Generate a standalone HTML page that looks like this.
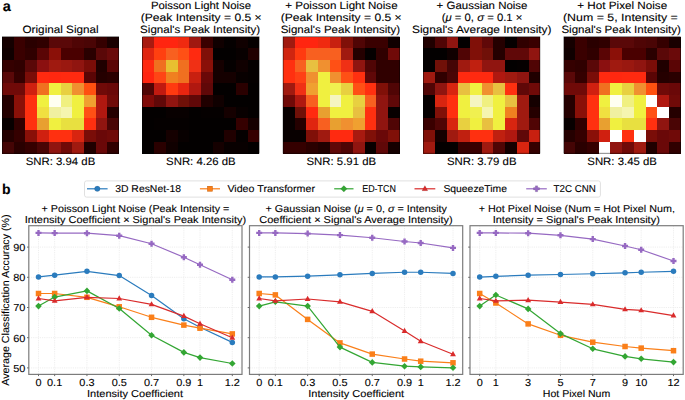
<!DOCTYPE html>
<html><head><meta charset="utf-8"><style>html,body{margin:0;padding:0;background:#fff;width:685px;height:400px;overflow:hidden}</style></head>
<body>
<svg width="685" height="400" viewBox="0 0 685 400" style="display:block" text-rendering="geometricPrecision">
<rect width="685" height="400" fill="#fff"/>
<g font-family="Liberation Sans, sans-serif" stroke="#000" stroke-width="0.1" fill="#000">
<text x="2.7" y="10.6" font-size="14.5" font-weight="bold" >a</text>
<text x="2.0" y="194" font-size="14" font-weight="bold" >b</text>
</g>
<g shape-rendering="crispEdges">
<rect x="2.00" y="36.50" width="11.75" height="11.75" fill="#150000"/>
<rect x="13.70" y="36.50" width="11.75" height="11.75" fill="#3a0000"/>
<rect x="25.40" y="36.50" width="11.75" height="11.75" fill="#2a0000"/>
<rect x="37.10" y="36.50" width="11.75" height="11.75" fill="#300000"/>
<rect x="48.80" y="36.50" width="11.75" height="11.75" fill="#5a0808"/>
<rect x="60.50" y="36.50" width="11.75" height="11.75" fill="#5a0808"/>
<rect x="72.20" y="36.50" width="11.75" height="11.75" fill="#4f0505"/>
<rect x="83.90" y="36.50" width="11.75" height="11.75" fill="#4a0505"/>
<rect x="95.60" y="36.50" width="11.75" height="11.75" fill="#350000"/>
<rect x="107.30" y="36.50" width="11.75" height="11.75" fill="#1a0000"/>
<rect x="2.00" y="48.20" width="11.75" height="11.75" fill="#100000"/>
<rect x="13.70" y="48.20" width="11.75" height="11.75" fill="#3a0000"/>
<rect x="25.40" y="48.20" width="11.75" height="11.75" fill="#300000"/>
<rect x="37.10" y="48.20" width="11.75" height="11.75" fill="#5a0505"/>
<rect x="48.80" y="48.20" width="11.75" height="11.75" fill="#8b1008"/>
<rect x="60.50" y="48.20" width="11.75" height="11.75" fill="#4a0000"/>
<rect x="72.20" y="48.20" width="11.75" height="11.75" fill="#4a0000"/>
<rect x="83.90" y="48.20" width="11.75" height="11.75" fill="#2a0000"/>
<rect x="95.60" y="48.20" width="11.75" height="11.75" fill="#5a0808"/>
<rect x="107.30" y="48.20" width="11.75" height="11.75" fill="#6a0a0a"/>
<rect x="2.00" y="59.90" width="11.75" height="11.75" fill="#350000"/>
<rect x="13.70" y="59.90" width="11.75" height="11.75" fill="#300000"/>
<rect x="25.40" y="59.90" width="11.75" height="11.75" fill="#5a0808"/>
<rect x="37.10" y="59.90" width="11.75" height="11.75" fill="#8b1010"/>
<rect x="48.80" y="59.90" width="11.75" height="11.75" fill="#a01a10"/>
<rect x="60.50" y="59.90" width="11.75" height="11.75" fill="#9a1810"/>
<rect x="72.20" y="59.90" width="11.75" height="11.75" fill="#901510"/>
<rect x="83.90" y="59.90" width="11.75" height="11.75" fill="#7a0d08"/>
<rect x="95.60" y="59.90" width="11.75" height="11.75" fill="#200000"/>
<rect x="107.30" y="59.90" width="11.75" height="11.75" fill="#5a0505"/>
<rect x="2.00" y="71.60" width="11.75" height="11.75" fill="#5a0808"/>
<rect x="13.70" y="71.60" width="11.75" height="11.75" fill="#350000"/>
<rect x="25.40" y="71.60" width="11.75" height="11.75" fill="#7a0d08"/>
<rect x="37.10" y="71.60" width="11.75" height="11.75" fill="#ff2a10"/>
<rect x="48.80" y="71.60" width="11.75" height="11.75" fill="#ff2810"/>
<rect x="60.50" y="71.60" width="11.75" height="11.75" fill="#ff2a10"/>
<rect x="72.20" y="71.60" width="11.75" height="11.75" fill="#ff2a10"/>
<rect x="83.90" y="71.60" width="11.75" height="11.75" fill="#5a0505"/>
<rect x="95.60" y="71.60" width="11.75" height="11.75" fill="#250000"/>
<rect x="107.30" y="71.60" width="11.75" height="11.75" fill="#2a0000"/>
<rect x="2.00" y="83.30" width="11.75" height="11.75" fill="#700a08"/>
<rect x="13.70" y="83.30" width="11.75" height="11.75" fill="#700a08"/>
<rect x="25.40" y="83.30" width="11.75" height="11.75" fill="#d02010"/>
<rect x="37.10" y="83.30" width="11.75" height="11.75" fill="#f07020"/>
<rect x="48.80" y="83.30" width="11.75" height="11.75" fill="#f0f040"/>
<rect x="60.50" y="83.30" width="11.75" height="11.75" fill="#e8d040"/>
<rect x="72.20" y="83.30" width="11.75" height="11.75" fill="#f09030"/>
<rect x="83.90" y="83.30" width="11.75" height="11.75" fill="#ff5010"/>
<rect x="95.60" y="83.30" width="11.75" height="11.75" fill="#700a08"/>
<rect x="107.30" y="83.30" width="11.75" height="11.75" fill="#6a0808"/>
<rect x="2.00" y="95.00" width="11.75" height="11.75" fill="#250000"/>
<rect x="13.70" y="95.00" width="11.75" height="11.75" fill="#8a1008"/>
<rect x="25.40" y="95.00" width="11.75" height="11.75" fill="#ff3010"/>
<rect x="37.10" y="95.00" width="11.75" height="11.75" fill="#f0f040"/>
<rect x="48.80" y="95.00" width="11.75" height="11.75" fill="#fffff0"/>
<rect x="60.50" y="95.00" width="11.75" height="11.75" fill="#f0f080"/>
<rect x="72.20" y="95.00" width="11.75" height="11.75" fill="#f0f040"/>
<rect x="83.90" y="95.00" width="11.75" height="11.75" fill="#f0a030"/>
<rect x="95.60" y="95.00" width="11.75" height="11.75" fill="#b01810"/>
<rect x="107.30" y="95.00" width="11.75" height="11.75" fill="#700a08"/>
<rect x="2.00" y="106.70" width="11.75" height="11.75" fill="#250000"/>
<rect x="13.70" y="106.70" width="11.75" height="11.75" fill="#8a1008"/>
<rect x="25.40" y="106.70" width="11.75" height="11.75" fill="#ff3010"/>
<rect x="37.10" y="106.70" width="11.75" height="11.75" fill="#f0e040"/>
<rect x="48.80" y="106.70" width="11.75" height="11.75" fill="#f0f0a0"/>
<rect x="60.50" y="106.70" width="11.75" height="11.75" fill="#f5f5b0"/>
<rect x="72.20" y="106.70" width="11.75" height="11.75" fill="#f0f040"/>
<rect x="83.90" y="106.70" width="11.75" height="11.75" fill="#ff5015"/>
<rect x="95.60" y="106.70" width="11.75" height="11.75" fill="#b01810"/>
<rect x="107.30" y="106.70" width="11.75" height="11.75" fill="#250000"/>
<rect x="2.00" y="118.40" width="11.75" height="11.75" fill="#080000"/>
<rect x="13.70" y="118.40" width="11.75" height="11.75" fill="#300000"/>
<rect x="25.40" y="118.40" width="11.75" height="11.75" fill="#ff3010"/>
<rect x="37.10" y="118.40" width="11.75" height="11.75" fill="#e8a030"/>
<rect x="48.80" y="118.40" width="11.75" height="11.75" fill="#f0f040"/>
<rect x="60.50" y="118.40" width="11.75" height="11.75" fill="#e8e040"/>
<rect x="72.20" y="118.40" width="11.75" height="11.75" fill="#e8e040"/>
<rect x="83.90" y="118.40" width="11.75" height="11.75" fill="#ff3010"/>
<rect x="95.60" y="118.40" width="11.75" height="11.75" fill="#901510"/>
<rect x="107.30" y="118.40" width="11.75" height="11.75" fill="#4a0505"/>
<rect x="2.00" y="130.10" width="11.75" height="11.75" fill="#250000"/>
<rect x="13.70" y="130.10" width="11.75" height="11.75" fill="#350000"/>
<rect x="25.40" y="130.10" width="11.75" height="11.75" fill="#8a1008"/>
<rect x="37.10" y="130.10" width="11.75" height="11.75" fill="#d02010"/>
<rect x="48.80" y="130.10" width="11.75" height="11.75" fill="#ff3010"/>
<rect x="60.50" y="130.10" width="11.75" height="11.75" fill="#ff3010"/>
<rect x="72.20" y="130.10" width="11.75" height="11.75" fill="#d82510"/>
<rect x="83.90" y="130.10" width="11.75" height="11.75" fill="#7a0d08"/>
<rect x="95.60" y="130.10" width="11.75" height="11.75" fill="#6a0808"/>
<rect x="107.30" y="130.10" width="11.75" height="11.75" fill="#700a08"/>
<rect x="2.00" y="141.80" width="11.75" height="11.75" fill="#450505"/>
<rect x="13.70" y="141.80" width="11.75" height="11.75" fill="#2a0000"/>
<rect x="25.40" y="141.80" width="11.75" height="11.75" fill="#350000"/>
<rect x="37.10" y="141.80" width="11.75" height="11.75" fill="#4a0505"/>
<rect x="48.80" y="141.80" width="11.75" height="11.75" fill="#901510"/>
<rect x="60.50" y="141.80" width="11.75" height="11.75" fill="#700a08"/>
<rect x="72.20" y="141.80" width="11.75" height="11.75" fill="#a01a10"/>
<rect x="83.90" y="141.80" width="11.75" height="11.75" fill="#200000"/>
<rect x="95.60" y="141.80" width="11.75" height="11.75" fill="#6a0808"/>
<rect x="107.30" y="141.80" width="11.75" height="11.75" fill="#300000"/>
</g>
<rect x="2.30" y="36.80" width="116.40" height="116.40" fill="none" stroke="#000" stroke-width="0.6" stroke-opacity="0.8"/>
<g shape-rendering="crispEdges">
<rect x="142.40" y="36.50" width="11.75" height="11.75" fill="#a81a10"/>
<rect x="154.10" y="36.50" width="11.75" height="11.75" fill="#ff2510"/>
<rect x="165.80" y="36.50" width="11.75" height="11.75" fill="#ff2510"/>
<rect x="177.50" y="36.50" width="11.75" height="11.75" fill="#f02a10"/>
<rect x="189.20" y="36.50" width="11.75" height="11.75" fill="#a01810"/>
<rect x="200.90" y="36.50" width="11.75" height="11.75" fill="#3a0000"/>
<rect x="212.60" y="36.50" width="11.75" height="11.75" fill="#100000"/>
<rect x="224.30" y="36.50" width="11.75" height="11.75" fill="#050000"/>
<rect x="236.00" y="36.50" width="11.75" height="11.75" fill="#100000"/>
<rect x="247.70" y="36.50" width="11.75" height="11.75" fill="#050000"/>
<rect x="142.40" y="48.20" width="11.75" height="11.75" fill="#e02510"/>
<rect x="154.10" y="48.20" width="11.75" height="11.75" fill="#ff4010"/>
<rect x="165.80" y="48.20" width="11.75" height="11.75" fill="#f86020"/>
<rect x="177.50" y="48.20" width="11.75" height="11.75" fill="#ff5015"/>
<rect x="189.20" y="48.20" width="11.75" height="11.75" fill="#ff2a10"/>
<rect x="200.90" y="48.20" width="11.75" height="11.75" fill="#801008"/>
<rect x="212.60" y="48.20" width="11.75" height="11.75" fill="#030000"/>
<rect x="224.30" y="48.20" width="11.75" height="11.75" fill="#030000"/>
<rect x="236.00" y="48.20" width="11.75" height="11.75" fill="#080000"/>
<rect x="247.70" y="48.20" width="11.75" height="11.75" fill="#200000"/>
<rect x="142.40" y="59.90" width="11.75" height="11.75" fill="#ff2a10"/>
<rect x="154.10" y="59.90" width="11.75" height="11.75" fill="#f07020"/>
<rect x="165.80" y="59.90" width="11.75" height="11.75" fill="#e8c030"/>
<rect x="177.50" y="59.90" width="11.75" height="11.75" fill="#f07020"/>
<rect x="189.20" y="59.90" width="11.75" height="11.75" fill="#f03015"/>
<rect x="200.90" y="59.90" width="11.75" height="11.75" fill="#8a1008"/>
<rect x="212.60" y="59.90" width="11.75" height="11.75" fill="#150000"/>
<rect x="224.30" y="59.90" width="11.75" height="11.75" fill="#050000"/>
<rect x="236.00" y="59.90" width="11.75" height="11.75" fill="#100000"/>
<rect x="247.70" y="59.90" width="11.75" height="11.75" fill="#050000"/>
<rect x="142.40" y="71.60" width="11.75" height="11.75" fill="#ff2510"/>
<rect x="154.10" y="71.60" width="11.75" height="11.75" fill="#ff4515"/>
<rect x="165.80" y="71.60" width="11.75" height="11.75" fill="#f08020"/>
<rect x="177.50" y="71.60" width="11.75" height="11.75" fill="#f07020"/>
<rect x="189.20" y="71.60" width="11.75" height="11.75" fill="#c82010"/>
<rect x="200.90" y="71.60" width="11.75" height="11.75" fill="#6a0808"/>
<rect x="212.60" y="71.60" width="11.75" height="11.75" fill="#150000"/>
<rect x="224.30" y="71.60" width="11.75" height="11.75" fill="#150000"/>
<rect x="236.00" y="71.60" width="11.75" height="11.75" fill="#080000"/>
<rect x="247.70" y="71.60" width="11.75" height="11.75" fill="#050000"/>
<rect x="142.40" y="83.30" width="11.75" height="11.75" fill="#500505"/>
<rect x="154.10" y="83.30" width="11.75" height="11.75" fill="#c01a10"/>
<rect x="165.80" y="83.30" width="11.75" height="11.75" fill="#ff3a10"/>
<rect x="177.50" y="83.30" width="11.75" height="11.75" fill="#e82510"/>
<rect x="189.20" y="83.30" width="11.75" height="11.75" fill="#b01810"/>
<rect x="200.90" y="83.30" width="11.75" height="11.75" fill="#600808"/>
<rect x="212.60" y="83.30" width="11.75" height="11.75" fill="#030000"/>
<rect x="224.30" y="83.30" width="11.75" height="11.75" fill="#030000"/>
<rect x="236.00" y="83.30" width="11.75" height="11.75" fill="#2a0000"/>
<rect x="247.70" y="83.30" width="11.75" height="11.75" fill="#030000"/>
<rect x="142.40" y="95.00" width="11.75" height="11.75" fill="#800a08"/>
<rect x="154.10" y="95.00" width="11.75" height="11.75" fill="#600808"/>
<rect x="165.80" y="95.00" width="11.75" height="11.75" fill="#901510"/>
<rect x="177.50" y="95.00" width="11.75" height="11.75" fill="#701008"/>
<rect x="189.20" y="95.00" width="11.75" height="11.75" fill="#600808"/>
<rect x="200.90" y="95.00" width="11.75" height="11.75" fill="#200000"/>
<rect x="212.60" y="95.00" width="11.75" height="11.75" fill="#100000"/>
<rect x="224.30" y="95.00" width="11.75" height="11.75" fill="#030000"/>
<rect x="236.00" y="95.00" width="11.75" height="11.75" fill="#030000"/>
<rect x="247.70" y="95.00" width="11.75" height="11.75" fill="#030000"/>
<rect x="142.40" y="106.70" width="11.75" height="11.75" fill="#030000"/>
<rect x="154.10" y="106.70" width="11.75" height="11.75" fill="#030000"/>
<rect x="165.80" y="106.70" width="11.75" height="11.75" fill="#080000"/>
<rect x="177.50" y="106.70" width="11.75" height="11.75" fill="#080000"/>
<rect x="189.20" y="106.70" width="11.75" height="11.75" fill="#030000"/>
<rect x="200.90" y="106.70" width="11.75" height="11.75" fill="#050000"/>
<rect x="212.60" y="106.70" width="11.75" height="11.75" fill="#050000"/>
<rect x="224.30" y="106.70" width="11.75" height="11.75" fill="#150000"/>
<rect x="236.00" y="106.70" width="11.75" height="11.75" fill="#080000"/>
<rect x="247.70" y="106.70" width="11.75" height="11.75" fill="#030000"/>
<rect x="142.40" y="118.40" width="11.75" height="11.75" fill="#030000"/>
<rect x="154.10" y="118.40" width="11.75" height="11.75" fill="#050000"/>
<rect x="165.80" y="118.40" width="11.75" height="11.75" fill="#050000"/>
<rect x="177.50" y="118.40" width="11.75" height="11.75" fill="#050000"/>
<rect x="189.20" y="118.40" width="11.75" height="11.75" fill="#030000"/>
<rect x="200.90" y="118.40" width="11.75" height="11.75" fill="#030000"/>
<rect x="212.60" y="118.40" width="11.75" height="11.75" fill="#030000"/>
<rect x="224.30" y="118.40" width="11.75" height="11.75" fill="#030000"/>
<rect x="236.00" y="118.40" width="11.75" height="11.75" fill="#350000"/>
<rect x="247.70" y="118.40" width="11.75" height="11.75" fill="#150000"/>
<rect x="142.40" y="130.10" width="11.75" height="11.75" fill="#030000"/>
<rect x="154.10" y="130.10" width="11.75" height="11.75" fill="#030000"/>
<rect x="165.80" y="130.10" width="11.75" height="11.75" fill="#150000"/>
<rect x="177.50" y="130.10" width="11.75" height="11.75" fill="#080000"/>
<rect x="189.20" y="130.10" width="11.75" height="11.75" fill="#030000"/>
<rect x="200.90" y="130.10" width="11.75" height="11.75" fill="#030000"/>
<rect x="212.60" y="130.10" width="11.75" height="11.75" fill="#030000"/>
<rect x="224.30" y="130.10" width="11.75" height="11.75" fill="#200000"/>
<rect x="236.00" y="130.10" width="11.75" height="11.75" fill="#050000"/>
<rect x="247.70" y="130.10" width="11.75" height="11.75" fill="#350000"/>
<rect x="142.40" y="141.80" width="11.75" height="11.75" fill="#030000"/>
<rect x="154.10" y="141.80" width="11.75" height="11.75" fill="#2a0000"/>
<rect x="165.80" y="141.80" width="11.75" height="11.75" fill="#100000"/>
<rect x="177.50" y="141.80" width="11.75" height="11.75" fill="#030000"/>
<rect x="189.20" y="141.80" width="11.75" height="11.75" fill="#030000"/>
<rect x="200.90" y="141.80" width="11.75" height="11.75" fill="#030000"/>
<rect x="212.60" y="141.80" width="11.75" height="11.75" fill="#150000"/>
<rect x="224.30" y="141.80" width="11.75" height="11.75" fill="#080000"/>
<rect x="236.00" y="141.80" width="11.75" height="11.75" fill="#080000"/>
<rect x="247.70" y="141.80" width="11.75" height="11.75" fill="#030000"/>
</g>
<rect x="142.70" y="36.80" width="116.40" height="116.40" fill="none" stroke="#000" stroke-width="0.6" stroke-opacity="0.8"/>
<g shape-rendering="crispEdges">
<rect x="282.80" y="36.50" width="11.75" height="11.75" fill="#a01a10"/>
<rect x="294.50" y="36.50" width="11.75" height="11.75" fill="#ff2510"/>
<rect x="306.20" y="36.50" width="11.75" height="11.75" fill="#ff2510"/>
<rect x="317.90" y="36.50" width="11.75" height="11.75" fill="#f02a10"/>
<rect x="329.60" y="36.50" width="11.75" height="11.75" fill="#c82010"/>
<rect x="341.30" y="36.50" width="11.75" height="11.75" fill="#801008"/>
<rect x="353.00" y="36.50" width="11.75" height="11.75" fill="#500505"/>
<rect x="364.70" y="36.50" width="11.75" height="11.75" fill="#3a0000"/>
<rect x="376.40" y="36.50" width="11.75" height="11.75" fill="#3a0000"/>
<rect x="388.10" y="36.50" width="11.75" height="11.75" fill="#100000"/>
<rect x="282.80" y="48.20" width="11.75" height="11.75" fill="#d02510"/>
<rect x="294.50" y="48.20" width="11.75" height="11.75" fill="#ff3a10"/>
<rect x="306.20" y="48.20" width="11.75" height="11.75" fill="#f86020"/>
<rect x="317.90" y="48.20" width="11.75" height="11.75" fill="#f86020"/>
<rect x="329.60" y="48.20" width="11.75" height="11.75" fill="#f86020"/>
<rect x="341.30" y="48.20" width="11.75" height="11.75" fill="#a01a10"/>
<rect x="353.00" y="48.20" width="11.75" height="11.75" fill="#250000"/>
<rect x="364.70" y="48.20" width="11.75" height="11.75" fill="#050000"/>
<rect x="376.40" y="48.20" width="11.75" height="11.75" fill="#300000"/>
<rect x="388.10" y="48.20" width="11.75" height="11.75" fill="#700a08"/>
<rect x="282.80" y="59.90" width="11.75" height="11.75" fill="#ff3010"/>
<rect x="294.50" y="59.90" width="11.75" height="11.75" fill="#f86020"/>
<rect x="306.20" y="59.90" width="11.75" height="11.75" fill="#e8c040"/>
<rect x="317.90" y="59.90" width="11.75" height="11.75" fill="#f09030"/>
<rect x="329.60" y="59.90" width="11.75" height="11.75" fill="#ff5015"/>
<rect x="341.30" y="59.90" width="11.75" height="11.75" fill="#f03015"/>
<rect x="353.00" y="59.90" width="11.75" height="11.75" fill="#901510"/>
<rect x="364.70" y="59.90" width="11.75" height="11.75" fill="#500505"/>
<rect x="376.40" y="59.90" width="11.75" height="11.75" fill="#300000"/>
<rect x="388.10" y="59.90" width="11.75" height="11.75" fill="#300000"/>
<rect x="282.80" y="71.60" width="11.75" height="11.75" fill="#ff3010"/>
<rect x="294.50" y="71.60" width="11.75" height="11.75" fill="#ff4015"/>
<rect x="306.20" y="71.60" width="11.75" height="11.75" fill="#f09030"/>
<rect x="317.90" y="71.60" width="11.75" height="11.75" fill="#f0f040"/>
<rect x="329.60" y="71.60" width="11.75" height="11.75" fill="#f09030"/>
<rect x="341.30" y="71.60" width="11.75" height="11.75" fill="#ff5015"/>
<rect x="353.00" y="71.60" width="11.75" height="11.75" fill="#ff3010"/>
<rect x="364.70" y="71.60" width="11.75" height="11.75" fill="#600808"/>
<rect x="376.40" y="71.60" width="11.75" height="11.75" fill="#300000"/>
<rect x="388.10" y="71.60" width="11.75" height="11.75" fill="#300000"/>
<rect x="282.80" y="83.30" width="11.75" height="11.75" fill="#a01a10"/>
<rect x="294.50" y="83.30" width="11.75" height="11.75" fill="#f03015"/>
<rect x="306.20" y="83.30" width="11.75" height="11.75" fill="#f0a030"/>
<rect x="317.90" y="83.30" width="11.75" height="11.75" fill="#f0f040"/>
<rect x="329.60" y="83.30" width="11.75" height="11.75" fill="#f0f050"/>
<rect x="341.30" y="83.30" width="11.75" height="11.75" fill="#e8d040"/>
<rect x="353.00" y="83.30" width="11.75" height="11.75" fill="#ff5015"/>
<rect x="364.70" y="83.30" width="11.75" height="11.75" fill="#ff3010"/>
<rect x="376.40" y="83.30" width="11.75" height="11.75" fill="#801008"/>
<rect x="388.10" y="83.30" width="11.75" height="11.75" fill="#500505"/>
<rect x="282.80" y="95.00" width="11.75" height="11.75" fill="#700a08"/>
<rect x="294.50" y="95.00" width="11.75" height="11.75" fill="#b01810"/>
<rect x="306.20" y="95.00" width="11.75" height="11.75" fill="#f86020"/>
<rect x="317.90" y="95.00" width="11.75" height="11.75" fill="#f0f040"/>
<rect x="329.60" y="95.00" width="11.75" height="11.75" fill="#f5f5c0"/>
<rect x="341.30" y="95.00" width="11.75" height="11.75" fill="#f0f040"/>
<rect x="353.00" y="95.00" width="11.75" height="11.75" fill="#e8d040"/>
<rect x="364.70" y="95.00" width="11.75" height="11.75" fill="#f86020"/>
<rect x="376.40" y="95.00" width="11.75" height="11.75" fill="#901510"/>
<rect x="388.10" y="95.00" width="11.75" height="11.75" fill="#600808"/>
<rect x="282.80" y="106.70" width="11.75" height="11.75" fill="#080000"/>
<rect x="294.50" y="106.70" width="11.75" height="11.75" fill="#701008"/>
<rect x="306.20" y="106.70" width="11.75" height="11.75" fill="#ff2a10"/>
<rect x="317.90" y="106.70" width="11.75" height="11.75" fill="#e8a030"/>
<rect x="329.60" y="106.70" width="11.75" height="11.75" fill="#f0f040"/>
<rect x="341.30" y="106.70" width="11.75" height="11.75" fill="#f0f040"/>
<rect x="353.00" y="106.70" width="11.75" height="11.75" fill="#e8c040"/>
<rect x="364.70" y="106.70" width="11.75" height="11.75" fill="#ff3010"/>
<rect x="376.40" y="106.70" width="11.75" height="11.75" fill="#901510"/>
<rect x="388.10" y="106.70" width="11.75" height="11.75" fill="#080000"/>
<rect x="282.80" y="118.40" width="11.75" height="11.75" fill="#080000"/>
<rect x="294.50" y="118.40" width="11.75" height="11.75" fill="#250000"/>
<rect x="306.20" y="118.40" width="11.75" height="11.75" fill="#e02510"/>
<rect x="317.90" y="118.40" width="11.75" height="11.75" fill="#f86020"/>
<rect x="329.60" y="118.40" width="11.75" height="11.75" fill="#e8a030"/>
<rect x="341.30" y="118.40" width="11.75" height="11.75" fill="#f09030"/>
<rect x="353.00" y="118.40" width="11.75" height="11.75" fill="#f0a030"/>
<rect x="364.70" y="118.40" width="11.75" height="11.75" fill="#ff3010"/>
<rect x="376.40" y="118.40" width="11.75" height="11.75" fill="#901510"/>
<rect x="388.10" y="118.40" width="11.75" height="11.75" fill="#500505"/>
<rect x="282.80" y="130.10" width="11.75" height="11.75" fill="#080000"/>
<rect x="294.50" y="130.10" width="11.75" height="11.75" fill="#080000"/>
<rect x="306.20" y="130.10" width="11.75" height="11.75" fill="#801008"/>
<rect x="317.90" y="130.10" width="11.75" height="11.75" fill="#a01a10"/>
<rect x="329.60" y="130.10" width="11.75" height="11.75" fill="#ff2a10"/>
<rect x="341.30" y="130.10" width="11.75" height="11.75" fill="#ff2a10"/>
<rect x="353.00" y="130.10" width="11.75" height="11.75" fill="#a81a10"/>
<rect x="364.70" y="130.10" width="11.75" height="11.75" fill="#801008"/>
<rect x="376.40" y="130.10" width="11.75" height="11.75" fill="#6a0808"/>
<rect x="388.10" y="130.10" width="11.75" height="11.75" fill="#801008"/>
<rect x="282.80" y="141.80" width="11.75" height="11.75" fill="#350000"/>
<rect x="294.50" y="141.80" width="11.75" height="11.75" fill="#350000"/>
<rect x="306.20" y="141.80" width="11.75" height="11.75" fill="#2a0000"/>
<rect x="317.90" y="141.80" width="11.75" height="11.75" fill="#200000"/>
<rect x="329.60" y="141.80" width="11.75" height="11.75" fill="#600808"/>
<rect x="341.30" y="141.80" width="11.75" height="11.75" fill="#500505"/>
<rect x="353.00" y="141.80" width="11.75" height="11.75" fill="#901510"/>
<rect x="364.70" y="141.80" width="11.75" height="11.75" fill="#080000"/>
<rect x="376.40" y="141.80" width="11.75" height="11.75" fill="#600808"/>
<rect x="388.10" y="141.80" width="11.75" height="11.75" fill="#150000"/>
</g>
<rect x="283.10" y="36.80" width="116.40" height="116.40" fill="none" stroke="#000" stroke-width="0.6" stroke-opacity="0.8"/>
<g shape-rendering="crispEdges">
<rect x="423.20" y="36.50" width="11.75" height="11.75" fill="#200000"/>
<rect x="434.90" y="36.50" width="11.75" height="11.75" fill="#500505"/>
<rect x="446.60" y="36.50" width="11.75" height="11.75" fill="#901510"/>
<rect x="458.30" y="36.50" width="11.75" height="11.75" fill="#030000"/>
<rect x="470.00" y="36.50" width="11.75" height="11.75" fill="#801008"/>
<rect x="481.70" y="36.50" width="11.75" height="11.75" fill="#600808"/>
<rect x="493.40" y="36.50" width="11.75" height="11.75" fill="#250000"/>
<rect x="505.10" y="36.50" width="11.75" height="11.75" fill="#050000"/>
<rect x="516.80" y="36.50" width="11.75" height="11.75" fill="#300000"/>
<rect x="528.50" y="36.50" width="11.75" height="11.75" fill="#3a0000"/>
<rect x="423.20" y="48.20" width="11.75" height="11.75" fill="#030000"/>
<rect x="434.90" y="48.20" width="11.75" height="11.75" fill="#030000"/>
<rect x="446.60" y="48.20" width="11.75" height="11.75" fill="#100000"/>
<rect x="458.30" y="48.20" width="11.75" height="11.75" fill="#500505"/>
<rect x="470.00" y="48.20" width="11.75" height="11.75" fill="#801008"/>
<rect x="481.70" y="48.20" width="11.75" height="11.75" fill="#701008"/>
<rect x="493.40" y="48.20" width="11.75" height="11.75" fill="#250000"/>
<rect x="505.10" y="48.20" width="11.75" height="11.75" fill="#600808"/>
<rect x="516.80" y="48.20" width="11.75" height="11.75" fill="#600808"/>
<rect x="528.50" y="48.20" width="11.75" height="11.75" fill="#901510"/>
<rect x="423.20" y="59.90" width="11.75" height="11.75" fill="#030000"/>
<rect x="434.90" y="59.90" width="11.75" height="11.75" fill="#701008"/>
<rect x="446.60" y="59.90" width="11.75" height="11.75" fill="#450505"/>
<rect x="458.30" y="59.90" width="11.75" height="11.75" fill="#a01a10"/>
<rect x="470.00" y="59.90" width="11.75" height="11.75" fill="#c02010"/>
<rect x="481.70" y="59.90" width="11.75" height="11.75" fill="#901510"/>
<rect x="493.40" y="59.90" width="11.75" height="11.75" fill="#901510"/>
<rect x="505.10" y="59.90" width="11.75" height="11.75" fill="#030000"/>
<rect x="516.80" y="59.90" width="11.75" height="11.75" fill="#050000"/>
<rect x="528.50" y="59.90" width="11.75" height="11.75" fill="#500505"/>
<rect x="423.20" y="71.60" width="11.75" height="11.75" fill="#a01a10"/>
<rect x="434.90" y="71.60" width="11.75" height="11.75" fill="#300000"/>
<rect x="446.60" y="71.60" width="11.75" height="11.75" fill="#4a0505"/>
<rect x="458.30" y="71.60" width="11.75" height="11.75" fill="#ff2a10"/>
<rect x="470.00" y="71.60" width="11.75" height="11.75" fill="#ff2a10"/>
<rect x="481.70" y="71.60" width="11.75" height="11.75" fill="#ff2a10"/>
<rect x="493.40" y="71.60" width="11.75" height="11.75" fill="#b01810"/>
<rect x="505.10" y="71.60" width="11.75" height="11.75" fill="#a01a10"/>
<rect x="516.80" y="71.60" width="11.75" height="11.75" fill="#901510"/>
<rect x="528.50" y="71.60" width="11.75" height="11.75" fill="#200000"/>
<rect x="423.20" y="83.30" width="11.75" height="11.75" fill="#500505"/>
<rect x="434.90" y="83.30" width="11.75" height="11.75" fill="#901510"/>
<rect x="446.60" y="83.30" width="11.75" height="11.75" fill="#d82510"/>
<rect x="458.30" y="83.30" width="11.75" height="11.75" fill="#e8c040"/>
<rect x="470.00" y="83.30" width="11.75" height="11.75" fill="#f0f040"/>
<rect x="481.70" y="83.30" width="11.75" height="11.75" fill="#f09030"/>
<rect x="493.40" y="83.30" width="11.75" height="11.75" fill="#e8c040"/>
<rect x="505.10" y="83.30" width="11.75" height="11.75" fill="#ff3010"/>
<rect x="516.80" y="83.30" width="11.75" height="11.75" fill="#600808"/>
<rect x="528.50" y="83.30" width="11.75" height="11.75" fill="#700a08"/>
<rect x="423.20" y="95.00" width="11.75" height="11.75" fill="#050000"/>
<rect x="434.90" y="95.00" width="11.75" height="11.75" fill="#d82510"/>
<rect x="446.60" y="95.00" width="11.75" height="11.75" fill="#ff3010"/>
<rect x="458.30" y="95.00" width="11.75" height="11.75" fill="#f0f040"/>
<rect x="470.00" y="95.00" width="11.75" height="11.75" fill="#f5f5c0"/>
<rect x="481.70" y="95.00" width="11.75" height="11.75" fill="#f0f080"/>
<rect x="493.40" y="95.00" width="11.75" height="11.75" fill="#f0f040"/>
<rect x="505.10" y="95.00" width="11.75" height="11.75" fill="#e8c040"/>
<rect x="516.80" y="95.00" width="11.75" height="11.75" fill="#a01a10"/>
<rect x="528.50" y="95.00" width="11.75" height="11.75" fill="#150000"/>
<rect x="423.20" y="106.70" width="11.75" height="11.75" fill="#050000"/>
<rect x="434.90" y="106.70" width="11.75" height="11.75" fill="#801008"/>
<rect x="446.60" y="106.70" width="11.75" height="11.75" fill="#ff3010"/>
<rect x="458.30" y="106.70" width="11.75" height="11.75" fill="#f0f040"/>
<rect x="470.00" y="106.70" width="11.75" height="11.75" fill="#f0f050"/>
<rect x="481.70" y="106.70" width="11.75" height="11.75" fill="#f5f5b0"/>
<rect x="493.40" y="106.70" width="11.75" height="11.75" fill="#f0f040"/>
<rect x="505.10" y="106.70" width="11.75" height="11.75" fill="#f08020"/>
<rect x="516.80" y="106.70" width="11.75" height="11.75" fill="#a01a10"/>
<rect x="528.50" y="106.70" width="11.75" height="11.75" fill="#250000"/>
<rect x="423.20" y="118.40" width="11.75" height="11.75" fill="#3a0000"/>
<rect x="434.90" y="118.40" width="11.75" height="11.75" fill="#500505"/>
<rect x="446.60" y="118.40" width="11.75" height="11.75" fill="#d82510"/>
<rect x="458.30" y="118.40" width="11.75" height="11.75" fill="#e8d040"/>
<rect x="470.00" y="118.40" width="11.75" height="11.75" fill="#f0f040"/>
<rect x="481.70" y="118.40" width="11.75" height="11.75" fill="#e8c040"/>
<rect x="493.40" y="118.40" width="11.75" height="11.75" fill="#f0f040"/>
<rect x="505.10" y="118.40" width="11.75" height="11.75" fill="#d82510"/>
<rect x="516.80" y="118.40" width="11.75" height="11.75" fill="#a01a10"/>
<rect x="528.50" y="118.40" width="11.75" height="11.75" fill="#500505"/>
<rect x="423.20" y="130.10" width="11.75" height="11.75" fill="#801008"/>
<rect x="434.90" y="130.10" width="11.75" height="11.75" fill="#150000"/>
<rect x="446.60" y="130.10" width="11.75" height="11.75" fill="#a01a10"/>
<rect x="458.30" y="130.10" width="11.75" height="11.75" fill="#c02010"/>
<rect x="470.00" y="130.10" width="11.75" height="11.75" fill="#ff3010"/>
<rect x="481.70" y="130.10" width="11.75" height="11.75" fill="#ff3010"/>
<rect x="493.40" y="130.10" width="11.75" height="11.75" fill="#c02010"/>
<rect x="505.10" y="130.10" width="11.75" height="11.75" fill="#b01810"/>
<rect x="516.80" y="130.10" width="11.75" height="11.75" fill="#600808"/>
<rect x="528.50" y="130.10" width="11.75" height="11.75" fill="#c82010"/>
<rect x="423.20" y="141.80" width="11.75" height="11.75" fill="#a01a10"/>
<rect x="434.90" y="141.80" width="11.75" height="11.75" fill="#030000"/>
<rect x="446.60" y="141.80" width="11.75" height="11.75" fill="#030000"/>
<rect x="458.30" y="141.80" width="11.75" height="11.75" fill="#350000"/>
<rect x="470.00" y="141.80" width="11.75" height="11.75" fill="#3a0000"/>
<rect x="481.70" y="141.80" width="11.75" height="11.75" fill="#a01a10"/>
<rect x="493.40" y="141.80" width="11.75" height="11.75" fill="#500505"/>
<rect x="505.10" y="141.80" width="11.75" height="11.75" fill="#150000"/>
<rect x="516.80" y="141.80" width="11.75" height="11.75" fill="#d82510"/>
<rect x="528.50" y="141.80" width="11.75" height="11.75" fill="#350000"/>
</g>
<rect x="423.50" y="36.80" width="116.40" height="116.40" fill="none" stroke="#000" stroke-width="0.6" stroke-opacity="0.8"/>
<g shape-rendering="crispEdges">
<rect x="563.60" y="36.50" width="11.75" height="11.75" fill="#150000"/>
<rect x="575.30" y="36.50" width="11.75" height="11.75" fill="#3a0000"/>
<rect x="587.00" y="36.50" width="11.75" height="11.75" fill="#2a0000"/>
<rect x="598.70" y="36.50" width="11.75" height="11.75" fill="#300000"/>
<rect x="610.40" y="36.50" width="11.75" height="11.75" fill="#5a0808"/>
<rect x="622.10" y="36.50" width="11.75" height="11.75" fill="#5a0808"/>
<rect x="633.80" y="36.50" width="11.75" height="11.75" fill="#4f0505"/>
<rect x="645.50" y="36.50" width="11.75" height="11.75" fill="#4a0505"/>
<rect x="657.20" y="36.50" width="11.75" height="11.75" fill="#350000"/>
<rect x="668.90" y="36.50" width="11.75" height="11.75" fill="#1a0000"/>
<rect x="563.60" y="48.20" width="11.75" height="11.75" fill="#100000"/>
<rect x="575.30" y="48.20" width="11.75" height="11.75" fill="#3a0000"/>
<rect x="587.00" y="48.20" width="11.75" height="11.75" fill="#300000"/>
<rect x="598.70" y="48.20" width="11.75" height="11.75" fill="#5a0505"/>
<rect x="610.40" y="48.20" width="11.75" height="11.75" fill="#8b1008"/>
<rect x="622.10" y="48.20" width="11.75" height="11.75" fill="#4a0000"/>
<rect x="633.80" y="48.20" width="11.75" height="11.75" fill="#4a0000"/>
<rect x="645.50" y="48.20" width="11.75" height="11.75" fill="#2a0000"/>
<rect x="657.20" y="48.20" width="11.75" height="11.75" fill="#5a0808"/>
<rect x="668.90" y="48.20" width="11.75" height="11.75" fill="#6a0a0a"/>
<rect x="563.60" y="59.90" width="11.75" height="11.75" fill="#350000"/>
<rect x="575.30" y="59.90" width="11.75" height="11.75" fill="#300000"/>
<rect x="587.00" y="59.90" width="11.75" height="11.75" fill="#5a0808"/>
<rect x="598.70" y="59.90" width="11.75" height="11.75" fill="#8b1010"/>
<rect x="610.40" y="59.90" width="11.75" height="11.75" fill="#a01a10"/>
<rect x="622.10" y="59.90" width="11.75" height="11.75" fill="#9a1810"/>
<rect x="633.80" y="59.90" width="11.75" height="11.75" fill="#901510"/>
<rect x="645.50" y="59.90" width="11.75" height="11.75" fill="#7a0d08"/>
<rect x="657.20" y="59.90" width="11.75" height="11.75" fill="#200000"/>
<rect x="668.90" y="59.90" width="11.75" height="11.75" fill="#5a0505"/>
<rect x="563.60" y="71.60" width="11.75" height="11.75" fill="#5a0808"/>
<rect x="575.30" y="71.60" width="11.75" height="11.75" fill="#350000"/>
<rect x="587.00" y="71.60" width="11.75" height="11.75" fill="#7a0d08"/>
<rect x="598.70" y="71.60" width="11.75" height="11.75" fill="#ff2a10"/>
<rect x="610.40" y="71.60" width="11.75" height="11.75" fill="#ff2810"/>
<rect x="622.10" y="71.60" width="11.75" height="11.75" fill="#ff2a10"/>
<rect x="633.80" y="71.60" width="11.75" height="11.75" fill="#ff2a10"/>
<rect x="645.50" y="71.60" width="11.75" height="11.75" fill="#5a0505"/>
<rect x="657.20" y="71.60" width="11.75" height="11.75" fill="#250000"/>
<rect x="668.90" y="71.60" width="11.75" height="11.75" fill="#2a0000"/>
<rect x="563.60" y="83.30" width="11.75" height="11.75" fill="#700a08"/>
<rect x="575.30" y="83.30" width="11.75" height="11.75" fill="#700a08"/>
<rect x="587.00" y="83.30" width="11.75" height="11.75" fill="#d02010"/>
<rect x="598.70" y="83.30" width="11.75" height="11.75" fill="#f07020"/>
<rect x="610.40" y="83.30" width="11.75" height="11.75" fill="#f0f040"/>
<rect x="622.10" y="83.30" width="11.75" height="11.75" fill="#e8d040"/>
<rect x="633.80" y="83.30" width="11.75" height="11.75" fill="#f09030"/>
<rect x="645.50" y="83.30" width="11.75" height="11.75" fill="#ff5010"/>
<rect x="657.20" y="83.30" width="11.75" height="11.75" fill="#700a08"/>
<rect x="668.90" y="83.30" width="11.75" height="11.75" fill="#6a0808"/>
<rect x="563.60" y="95.00" width="11.75" height="11.75" fill="#250000"/>
<rect x="575.30" y="95.00" width="11.75" height="11.75" fill="#8a1008"/>
<rect x="587.00" y="95.00" width="11.75" height="11.75" fill="#ff3010"/>
<rect x="598.70" y="95.00" width="11.75" height="11.75" fill="#f0f040"/>
<rect x="610.40" y="95.00" width="11.75" height="11.75" fill="#fffff0"/>
<rect x="622.10" y="95.00" width="11.75" height="11.75" fill="#f0f080"/>
<rect x="633.80" y="95.00" width="11.75" height="11.75" fill="#f0f040"/>
<rect x="645.50" y="95.00" width="11.75" height="11.75" fill="#ffffff"/>
<rect x="657.20" y="95.00" width="11.75" height="11.75" fill="#b01810"/>
<rect x="668.90" y="95.00" width="11.75" height="11.75" fill="#700a08"/>
<rect x="563.60" y="106.70" width="11.75" height="11.75" fill="#250000"/>
<rect x="575.30" y="106.70" width="11.75" height="11.75" fill="#8a1008"/>
<rect x="587.00" y="106.70" width="11.75" height="11.75" fill="#ff3010"/>
<rect x="598.70" y="106.70" width="11.75" height="11.75" fill="#f0e040"/>
<rect x="610.40" y="106.70" width="11.75" height="11.75" fill="#f0f0a0"/>
<rect x="622.10" y="106.70" width="11.75" height="11.75" fill="#f5f5b0"/>
<rect x="633.80" y="106.70" width="11.75" height="11.75" fill="#f0f040"/>
<rect x="645.50" y="106.70" width="11.75" height="11.75" fill="#ff5015"/>
<rect x="657.20" y="106.70" width="11.75" height="11.75" fill="#ffffff"/>
<rect x="668.90" y="106.70" width="11.75" height="11.75" fill="#250000"/>
<rect x="563.60" y="118.40" width="11.75" height="11.75" fill="#080000"/>
<rect x="575.30" y="118.40" width="11.75" height="11.75" fill="#300000"/>
<rect x="587.00" y="118.40" width="11.75" height="11.75" fill="#ff3010"/>
<rect x="598.70" y="118.40" width="11.75" height="11.75" fill="#e8a030"/>
<rect x="610.40" y="118.40" width="11.75" height="11.75" fill="#f0f040"/>
<rect x="622.10" y="118.40" width="11.75" height="11.75" fill="#e8e040"/>
<rect x="633.80" y="118.40" width="11.75" height="11.75" fill="#e8e040"/>
<rect x="645.50" y="118.40" width="11.75" height="11.75" fill="#ff3010"/>
<rect x="657.20" y="118.40" width="11.75" height="11.75" fill="#901510"/>
<rect x="668.90" y="118.40" width="11.75" height="11.75" fill="#4a0505"/>
<rect x="563.60" y="130.10" width="11.75" height="11.75" fill="#250000"/>
<rect x="575.30" y="130.10" width="11.75" height="11.75" fill="#350000"/>
<rect x="587.00" y="130.10" width="11.75" height="11.75" fill="#8a1008"/>
<rect x="598.70" y="130.10" width="11.75" height="11.75" fill="#d02010"/>
<rect x="610.40" y="130.10" width="11.75" height="11.75" fill="#ffffff"/>
<rect x="622.10" y="130.10" width="11.75" height="11.75" fill="#ff3010"/>
<rect x="633.80" y="130.10" width="11.75" height="11.75" fill="#ffffff"/>
<rect x="645.50" y="130.10" width="11.75" height="11.75" fill="#7a0d08"/>
<rect x="657.20" y="130.10" width="11.75" height="11.75" fill="#6a0808"/>
<rect x="668.90" y="130.10" width="11.75" height="11.75" fill="#700a08"/>
<rect x="563.60" y="141.80" width="11.75" height="11.75" fill="#450505"/>
<rect x="575.30" y="141.80" width="11.75" height="11.75" fill="#2a0000"/>
<rect x="587.00" y="141.80" width="11.75" height="11.75" fill="#350000"/>
<rect x="598.70" y="141.80" width="11.75" height="11.75" fill="#ffffff"/>
<rect x="610.40" y="141.80" width="11.75" height="11.75" fill="#901510"/>
<rect x="622.10" y="141.80" width="11.75" height="11.75" fill="#700a08"/>
<rect x="633.80" y="141.80" width="11.75" height="11.75" fill="#a01a10"/>
<rect x="645.50" y="141.80" width="11.75" height="11.75" fill="#200000"/>
<rect x="657.20" y="141.80" width="11.75" height="11.75" fill="#6a0808"/>
<rect x="668.90" y="141.80" width="11.75" height="11.75" fill="#300000"/>
</g>
<rect x="563.90" y="36.80" width="116.40" height="116.40" fill="none" stroke="#000" stroke-width="0.6" stroke-opacity="0.8"/>
<g font-family="Liberation Sans, sans-serif" stroke="#000" stroke-width="0.1" fill="#000">
<text x="22.5" y="33" font-size="10.6" textLength="76.2" lengthAdjust="spacingAndGlyphs" >Original Signal</text>
<text x="150.9" y="9" font-size="10.6" textLength="100.2" lengthAdjust="spacingAndGlyphs" >Poisson Light Noise</text>
<text x="140.7" y="21" font-size="10.6" textLength="121.0" lengthAdjust="spacingAndGlyphs" >(Peak Intensity = 0.5 ×</text>
<text x="140.1" y="33" font-size="10.6" textLength="120.0" lengthAdjust="spacingAndGlyphs" >Signal's Peak Intensity)</text>
<text x="285.2" y="9" font-size="10.6" textLength="112.4" lengthAdjust="spacingAndGlyphs" >+ Poisson Light Noise</text>
<text x="280.7" y="21" font-size="10.6" textLength="121.0" lengthAdjust="spacingAndGlyphs" >(Peak Intensity = 0.5 ×</text>
<text x="280.7" y="33" font-size="10.6" textLength="119.4" lengthAdjust="spacingAndGlyphs" >Signal's Peak Intensity)</text>
<text x="436.6" y="9" font-size="10.6" textLength="90.9" lengthAdjust="spacingAndGlyphs" >+ Gaussian Noise</text>
<text x="412.0" y="33" font-size="10.6" textLength="139.5" lengthAdjust="spacingAndGlyphs" >Signal's Average Intensity)</text>
<text x="577.3" y="9" font-size="10.6" textLength="89.9" lengthAdjust="spacingAndGlyphs" >+ Hot Pixel Noise</text>
<text x="563.0" y="21" font-size="10.6" textLength="114.8" lengthAdjust="spacingAndGlyphs" >(Num = 5, Intensity =</text>
<text x="561.4" y="33" font-size="10.6" textLength="119.5" lengthAdjust="spacingAndGlyphs" >Signal's Peak Intensity)</text>
<text x="441.7" y="21" font-size="10.6" textLength="80.7" lengthAdjust="spacingAndGlyphs">(<tspan font-style="italic">μ</tspan> = 0, <tspan font-style="italic">σ</tspan> = 0.1 ×</text>
<text x="25.7" y="165" font-size="10.7" textLength="69.6" lengthAdjust="spacingAndGlyphs" >SNR: 3.94 dB</text>
<text x="166.1" y="165" font-size="10.7" textLength="69.6" lengthAdjust="spacingAndGlyphs" >SNR: 4.26 dB</text>
<text x="306.5" y="165" font-size="10.7" textLength="69.6" lengthAdjust="spacingAndGlyphs" >SNR: 5.91 dB</text>
<text x="446.9" y="165" font-size="10.7" textLength="69.6" lengthAdjust="spacingAndGlyphs" >SNR: 3.79 dB</text>
<text x="587.3" y="165" font-size="10.7" textLength="69.6" lengthAdjust="spacingAndGlyphs" >SNR: 3.45 dB</text>
</g>
<rect x="84.5" y="180.9" width="515.9" height="16.2" rx="2" fill="#fff" stroke="#e0e0e0" stroke-width="1"/>
<g font-family="Liberation Sans, sans-serif" stroke="#000" stroke-width="0.1" fill="#000">
<line x1="87" y1="188.8" x2="107.6" y2="188.8" stroke="#2a7bbd" stroke-width="1.2"/>
<circle cx="97.30" cy="188.80" r="2.75" fill="#2a7bbd"/>
<text x="115.2" y="192" font-size="10.0" textLength="65.9" lengthAdjust="spacingAndGlyphs" >3D ResNet-18</text>
<line x1="199.9" y1="188.8" x2="220" y2="188.8" stroke="#fa7f19" stroke-width="1.2"/>
<rect x="207.20" y="186.05" width="5.50" height="5.50" fill="#fa7f19"/>
<text x="227.4" y="192" font-size="10.0" textLength="87.6" lengthAdjust="spacingAndGlyphs" >Video Transformer</text>
<line x1="334.2" y1="188.8" x2="353.5" y2="188.8" stroke="#33a633" stroke-width="1.2"/>
<path d="M343.85 185.50L347.15 188.80L343.85 192.10L340.55 188.80Z" fill="#33a633"/>
<text x="362.2" y="192" font-size="10.0" textLength="33.7" lengthAdjust="spacingAndGlyphs" >ED-TCN</text>
<line x1="414.5" y1="188.8" x2="435.3" y2="188.8" stroke="#d92b2b" stroke-width="1.2"/>
<path d="M424.90 185.55L427.82 190.75L421.97 190.75Z" fill="#d92b2b"/>
<text x="443.4" y="192" font-size="10.0" textLength="63.6" lengthAdjust="spacingAndGlyphs" >SqueezeTime</text>
<line x1="526.2" y1="188.8" x2="546.8" y2="188.8" stroke="#9669c2" stroke-width="1.2"/>
<path d="M535.30 185.80H537.70V187.60H539.50V190.00H537.70V191.80H535.30V190.00H533.50V187.60H535.30Z" fill="#9669c2"/>
<text x="553.5" y="192" font-size="10.0" textLength="42.4" lengthAdjust="spacingAndGlyphs" >T2C CNN</text>
</g>
<g stroke="#ececec" stroke-width="0.9" stroke-dasharray="1.2 1">
<line x1="38.50" y1="225.7" x2="38.50" y2="374.4"/>
<line x1="54.65" y1="225.7" x2="54.65" y2="374.4"/>
<line x1="86.95" y1="225.7" x2="86.95" y2="374.4"/>
<line x1="119.25" y1="225.7" x2="119.25" y2="374.4"/>
<line x1="151.55" y1="225.7" x2="151.55" y2="374.4"/>
<line x1="183.85" y1="225.7" x2="183.85" y2="374.4"/>
<line x1="200.00" y1="225.7" x2="200.00" y2="374.4"/>
<line x1="232.30" y1="225.7" x2="232.30" y2="374.4"/>
<line x1="28.8" y1="367.90" x2="242.0" y2="367.90"/>
<line x1="28.8" y1="337.70" x2="242.0" y2="337.70"/>
<line x1="28.8" y1="307.50" x2="242.0" y2="307.50"/>
<line x1="28.8" y1="277.30" x2="242.0" y2="277.30"/>
<line x1="28.8" y1="247.10" x2="242.0" y2="247.10"/>
</g>
<polyline points="38.50,276.90 54.65,275.20 86.95,271.30 119.25,275.60 151.55,295.40 183.85,318.70 200.00,327.20 232.30,342.40" fill="none" stroke="#2a7bbd" stroke-width="1.2" stroke-linejoin="round"/>
<circle cx="38.50" cy="276.90" r="2.75" fill="#2a7bbd"/>
<circle cx="54.65" cy="275.20" r="2.75" fill="#2a7bbd"/>
<circle cx="86.95" cy="271.30" r="2.75" fill="#2a7bbd"/>
<circle cx="119.25" cy="275.60" r="2.75" fill="#2a7bbd"/>
<circle cx="151.55" cy="295.40" r="2.75" fill="#2a7bbd"/>
<circle cx="183.85" cy="318.70" r="2.75" fill="#2a7bbd"/>
<circle cx="200.00" cy="327.20" r="2.75" fill="#2a7bbd"/>
<circle cx="232.30" cy="342.40" r="2.75" fill="#2a7bbd"/>
<polyline points="38.50,293.50 54.65,293.50 86.95,297.30 119.25,306.80 151.55,317.30 183.85,325.10 200.00,328.20 232.30,333.90" fill="none" stroke="#fa7f19" stroke-width="1.2" stroke-linejoin="round"/>
<rect x="35.75" y="290.75" width="5.50" height="5.50" fill="#fa7f19"/>
<rect x="51.90" y="290.75" width="5.50" height="5.50" fill="#fa7f19"/>
<rect x="84.20" y="294.55" width="5.50" height="5.50" fill="#fa7f19"/>
<rect x="116.50" y="304.05" width="5.50" height="5.50" fill="#fa7f19"/>
<rect x="148.80" y="314.55" width="5.50" height="5.50" fill="#fa7f19"/>
<rect x="181.10" y="322.35" width="5.50" height="5.50" fill="#fa7f19"/>
<rect x="197.25" y="325.45" width="5.50" height="5.50" fill="#fa7f19"/>
<rect x="229.55" y="331.15" width="5.50" height="5.50" fill="#fa7f19"/>
<polyline points="38.50,306.10 54.65,297.10 86.95,290.90 119.25,308.50 151.55,335.30 183.85,352.40 200.00,357.60 232.30,363.50" fill="none" stroke="#33a633" stroke-width="1.2" stroke-linejoin="round"/>
<path d="M38.50 302.80L41.80 306.10L38.50 309.40L35.20 306.10Z" fill="#33a633"/>
<path d="M54.65 293.80L57.95 297.10L54.65 300.40L51.35 297.10Z" fill="#33a633"/>
<path d="M86.95 287.60L90.25 290.90L86.95 294.20L83.65 290.90Z" fill="#33a633"/>
<path d="M119.25 305.20L122.55 308.50L119.25 311.80L115.95 308.50Z" fill="#33a633"/>
<path d="M151.55 332.00L154.85 335.30L151.55 338.60L148.25 335.30Z" fill="#33a633"/>
<path d="M183.85 349.10L187.15 352.40L183.85 355.70L180.55 352.40Z" fill="#33a633"/>
<path d="M200.00 354.30L203.30 357.60L200.00 360.90L196.70 357.60Z" fill="#33a633"/>
<path d="M232.30 360.20L235.60 363.50L232.30 366.80L229.00 363.50Z" fill="#33a633"/>
<polyline points="38.50,298.50 54.65,300.90 86.95,297.30 119.25,298.50 151.55,304.40 183.85,316.10 200.00,323.70 232.30,337.70" fill="none" stroke="#d92b2b" stroke-width="1.2" stroke-linejoin="round"/>
<path d="M38.50 295.25L41.42 300.45L35.58 300.45Z" fill="#d92b2b"/>
<path d="M54.65 297.65L57.58 302.85L51.73 302.85Z" fill="#d92b2b"/>
<path d="M86.95 294.05L89.87 299.25L84.02 299.25Z" fill="#d92b2b"/>
<path d="M119.25 295.25L122.17 300.45L116.33 300.45Z" fill="#d92b2b"/>
<path d="M151.55 301.15L154.48 306.35L148.62 306.35Z" fill="#d92b2b"/>
<path d="M183.85 312.85L186.78 318.05L180.92 318.05Z" fill="#d92b2b"/>
<path d="M200.00 320.45L202.93 325.65L197.07 325.65Z" fill="#d92b2b"/>
<path d="M232.30 334.45L235.22 339.65L229.37 339.65Z" fill="#d92b2b"/>
<polyline points="38.50,232.90 54.65,233.10 86.95,233.20 119.25,235.70 151.55,243.75 183.85,257.25 200.00,264.75 232.30,279.75" fill="none" stroke="#9669c2" stroke-width="1.2" stroke-linejoin="round"/>
<path d="M37.30 229.90H39.70V231.70H41.50V234.10H39.70V235.90H37.30V234.10H35.50V231.70H37.30Z" fill="#9669c2"/>
<path d="M53.45 230.10H55.85V231.90H57.65V234.30H55.85V236.10H53.45V234.30H51.65V231.90H53.45Z" fill="#9669c2"/>
<path d="M85.75 230.20H88.15V232.00H89.95V234.40H88.15V236.20H85.75V234.40H83.95V232.00H85.75Z" fill="#9669c2"/>
<path d="M118.05 232.70H120.45V234.50H122.25V236.90H120.45V238.70H118.05V236.90H116.25V234.50H118.05Z" fill="#9669c2"/>
<path d="M150.35 240.75H152.75V242.55H154.55V244.95H152.75V246.75H150.35V244.95H148.55V242.55H150.35Z" fill="#9669c2"/>
<path d="M182.65 254.25H185.05V256.05H186.85V258.45H185.05V260.25H182.65V258.45H180.85V256.05H182.65Z" fill="#9669c2"/>
<path d="M198.80 261.75H201.20V263.55H203.00V265.95H201.20V267.75H198.80V265.95H197.00V263.55H198.80Z" fill="#9669c2"/>
<path d="M231.10 276.75H233.50V278.55H235.30V280.95H233.50V282.75H231.10V280.95H229.30V278.55H231.10Z" fill="#9669c2"/>
<rect x="28.8" y="225.7" width="213.2" height="148.7" fill="none" stroke="#7c7c7c" stroke-width="1.2"/>
<g stroke="#6a6a6a" stroke-width="1.0">
<line x1="38.50" y1="374.4" x2="38.50" y2="376.09999999999997"/>
<line x1="54.65" y1="374.4" x2="54.65" y2="376.09999999999997"/>
<line x1="86.95" y1="374.4" x2="86.95" y2="376.09999999999997"/>
<line x1="119.25" y1="374.4" x2="119.25" y2="376.09999999999997"/>
<line x1="151.55" y1="374.4" x2="151.55" y2="376.09999999999997"/>
<line x1="183.85" y1="374.4" x2="183.85" y2="376.09999999999997"/>
<line x1="200.00" y1="374.4" x2="200.00" y2="376.09999999999997"/>
<line x1="232.30" y1="374.4" x2="232.30" y2="376.09999999999997"/>
<line x1="27.0" y1="367.90" x2="28.8" y2="367.90"/>
<line x1="27.0" y1="337.70" x2="28.8" y2="337.70"/>
<line x1="27.0" y1="307.50" x2="28.8" y2="307.50"/>
<line x1="27.0" y1="277.30" x2="28.8" y2="277.30"/>
<line x1="27.0" y1="247.10" x2="28.8" y2="247.10"/>
</g>
<g font-family="Liberation Sans, sans-serif" stroke="#000" stroke-width="0.1" fill="#000">
<text x="38.5" y="386" font-size="10.2" text-anchor="middle" textLength="6.08" lengthAdjust="spacingAndGlyphs" >0</text>
<text x="54.65" y="386" font-size="10.2" text-anchor="middle" textLength="15.19" lengthAdjust="spacingAndGlyphs" >0.1</text>
<text x="86.95" y="386" font-size="10.2" text-anchor="middle" textLength="15.19" lengthAdjust="spacingAndGlyphs" >0.3</text>
<text x="119.25" y="386" font-size="10.2" text-anchor="middle" textLength="15.19" lengthAdjust="spacingAndGlyphs" >0.5</text>
<text x="151.55" y="386" font-size="10.2" text-anchor="middle" textLength="15.19" lengthAdjust="spacingAndGlyphs" >0.7</text>
<text x="183.85" y="386" font-size="10.2" text-anchor="middle" textLength="15.19" lengthAdjust="spacingAndGlyphs" >0.9</text>
<text x="200.0" y="386" font-size="10.2" text-anchor="middle" textLength="6.08" lengthAdjust="spacingAndGlyphs" >1</text>
<text x="232.3" y="386" font-size="10.2" text-anchor="middle" textLength="15.19" lengthAdjust="spacingAndGlyphs" >1.2</text>
<text x="25.3" y="372" font-size="10.2" text-anchor="end" textLength="12.15" lengthAdjust="spacingAndGlyphs" >50</text>
<text x="25.3" y="342" font-size="10.2" text-anchor="end" textLength="12.15" lengthAdjust="spacingAndGlyphs" >60</text>
<text x="25.3" y="311" font-size="10.2" text-anchor="end" textLength="12.15" lengthAdjust="spacingAndGlyphs" >70</text>
<text x="25.3" y="281" font-size="10.2" text-anchor="end" textLength="12.15" lengthAdjust="spacingAndGlyphs" >80</text>
<text x="25.3" y="251" font-size="10.2" text-anchor="end" textLength="12.15" lengthAdjust="spacingAndGlyphs" >90</text>
<text x="41.5" y="212" font-size="10.0" textLength="187.8" lengthAdjust="spacingAndGlyphs" >+ Poisson Light Noise (Peak Intensity =</text>
<text x="24.7" y="223" font-size="10.0" textLength="221.4" lengthAdjust="spacingAndGlyphs" >Intensity Coefficient × Signal's Peak Intensity)</text>
<text x="87" y="397" font-size="10.0" textLength="96" lengthAdjust="spacingAndGlyphs" >Intensity Coefficient</text>
</g>
<g stroke="#ececec" stroke-width="0.9" stroke-dasharray="1.2 1">
<line x1="259.20" y1="225.7" x2="259.20" y2="374.4"/>
<line x1="275.35" y1="225.7" x2="275.35" y2="374.4"/>
<line x1="307.65" y1="225.7" x2="307.65" y2="374.4"/>
<line x1="339.95" y1="225.7" x2="339.95" y2="374.4"/>
<line x1="372.25" y1="225.7" x2="372.25" y2="374.4"/>
<line x1="404.55" y1="225.7" x2="404.55" y2="374.4"/>
<line x1="420.70" y1="225.7" x2="420.70" y2="374.4"/>
<line x1="453.00" y1="225.7" x2="453.00" y2="374.4"/>
<line x1="249.5" y1="367.90" x2="462.7" y2="367.90"/>
<line x1="249.5" y1="337.70" x2="462.7" y2="337.70"/>
<line x1="249.5" y1="307.50" x2="462.7" y2="307.50"/>
<line x1="249.5" y1="277.30" x2="462.7" y2="277.30"/>
<line x1="249.5" y1="247.10" x2="462.7" y2="247.10"/>
</g>
<polyline points="259.20,276.90 275.35,276.90 307.65,276.20 339.95,274.80 372.25,273.40 404.55,272.25 420.70,272.25 453.00,273.40" fill="none" stroke="#2a7bbd" stroke-width="1.2" stroke-linejoin="round"/>
<circle cx="259.20" cy="276.90" r="2.75" fill="#2a7bbd"/>
<circle cx="275.35" cy="276.90" r="2.75" fill="#2a7bbd"/>
<circle cx="307.65" cy="276.20" r="2.75" fill="#2a7bbd"/>
<circle cx="339.95" cy="274.80" r="2.75" fill="#2a7bbd"/>
<circle cx="372.25" cy="273.40" r="2.75" fill="#2a7bbd"/>
<circle cx="404.55" cy="272.25" r="2.75" fill="#2a7bbd"/>
<circle cx="420.70" cy="272.25" r="2.75" fill="#2a7bbd"/>
<circle cx="453.00" cy="273.40" r="2.75" fill="#2a7bbd"/>
<polyline points="259.20,293.50 275.35,294.90 307.65,319.40 339.95,342.90 372.25,354.10 404.55,359.00 420.70,361.20 453.00,362.80" fill="none" stroke="#fa7f19" stroke-width="1.2" stroke-linejoin="round"/>
<rect x="256.45" y="290.75" width="5.50" height="5.50" fill="#fa7f19"/>
<rect x="272.60" y="292.15" width="5.50" height="5.50" fill="#fa7f19"/>
<rect x="304.90" y="316.65" width="5.50" height="5.50" fill="#fa7f19"/>
<rect x="337.20" y="340.15" width="5.50" height="5.50" fill="#fa7f19"/>
<rect x="369.50" y="351.35" width="5.50" height="5.50" fill="#fa7f19"/>
<rect x="401.80" y="356.25" width="5.50" height="5.50" fill="#fa7f19"/>
<rect x="417.95" y="358.45" width="5.50" height="5.50" fill="#fa7f19"/>
<rect x="450.25" y="360.05" width="5.50" height="5.50" fill="#fa7f19"/>
<polyline points="259.20,306.10 275.35,301.80 307.65,306.10 339.95,347.10 372.25,362.40 404.55,366.20 420.70,366.90 453.00,367.80" fill="none" stroke="#33a633" stroke-width="1.2" stroke-linejoin="round"/>
<path d="M259.20 302.80L262.50 306.10L259.20 309.40L255.90 306.10Z" fill="#33a633"/>
<path d="M275.35 298.50L278.65 301.80L275.35 305.10L272.05 301.80Z" fill="#33a633"/>
<path d="M307.65 302.80L310.95 306.10L307.65 309.40L304.35 306.10Z" fill="#33a633"/>
<path d="M339.95 343.80L343.25 347.10L339.95 350.40L336.65 347.10Z" fill="#33a633"/>
<path d="M372.25 359.10L375.55 362.40L372.25 365.70L368.95 362.40Z" fill="#33a633"/>
<path d="M404.55 362.90L407.85 366.20L404.55 369.50L401.25 366.20Z" fill="#33a633"/>
<path d="M420.70 363.60L424.00 366.90L420.70 370.20L417.40 366.90Z" fill="#33a633"/>
<path d="M453.00 364.50L456.30 367.80L453.00 371.10L449.70 367.80Z" fill="#33a633"/>
<polyline points="259.20,298.50 275.35,300.90 307.65,299.00 339.95,301.80 372.25,311.30 404.55,331.00 420.70,341.20 453.00,354.30" fill="none" stroke="#d92b2b" stroke-width="1.2" stroke-linejoin="round"/>
<path d="M259.20 295.25L262.12 300.45L256.27 300.45Z" fill="#d92b2b"/>
<path d="M275.35 297.65L278.27 302.85L272.42 302.85Z" fill="#d92b2b"/>
<path d="M307.65 295.75L310.57 300.95L304.72 300.95Z" fill="#d92b2b"/>
<path d="M339.95 298.55L342.88 303.75L337.02 303.75Z" fill="#d92b2b"/>
<path d="M372.25 308.05L375.18 313.25L369.32 313.25Z" fill="#d92b2b"/>
<path d="M404.55 327.75L407.47 332.95L401.62 332.95Z" fill="#d92b2b"/>
<path d="M420.70 337.95L423.62 343.15L417.77 343.15Z" fill="#d92b2b"/>
<path d="M453.00 351.05L455.93 356.25L450.07 356.25Z" fill="#d92b2b"/>
<polyline points="259.20,232.90 275.35,232.90 307.65,233.60 339.95,235.10 372.25,237.75 404.55,241.50 420.70,243.00 453.00,247.90" fill="none" stroke="#9669c2" stroke-width="1.2" stroke-linejoin="round"/>
<path d="M258.00 229.90H260.40V231.70H262.20V234.10H260.40V235.90H258.00V234.10H256.20V231.70H258.00Z" fill="#9669c2"/>
<path d="M274.15 229.90H276.55V231.70H278.35V234.10H276.55V235.90H274.15V234.10H272.35V231.70H274.15Z" fill="#9669c2"/>
<path d="M306.45 230.60H308.85V232.40H310.65V234.80H308.85V236.60H306.45V234.80H304.65V232.40H306.45Z" fill="#9669c2"/>
<path d="M338.75 232.10H341.15V233.90H342.95V236.30H341.15V238.10H338.75V236.30H336.95V233.90H338.75Z" fill="#9669c2"/>
<path d="M371.05 234.75H373.45V236.55H375.25V238.95H373.45V240.75H371.05V238.95H369.25V236.55H371.05Z" fill="#9669c2"/>
<path d="M403.35 238.50H405.75V240.30H407.55V242.70H405.75V244.50H403.35V242.70H401.55V240.30H403.35Z" fill="#9669c2"/>
<path d="M419.50 240.00H421.90V241.80H423.70V244.20H421.90V246.00H419.50V244.20H417.70V241.80H419.50Z" fill="#9669c2"/>
<path d="M451.80 244.90H454.20V246.70H456.00V249.10H454.20V250.90H451.80V249.10H450.00V246.70H451.80Z" fill="#9669c2"/>
<rect x="249.5" y="225.7" width="213.2" height="148.7" fill="none" stroke="#7c7c7c" stroke-width="1.2"/>
<g stroke="#6a6a6a" stroke-width="1.0">
<line x1="259.20" y1="374.4" x2="259.20" y2="376.09999999999997"/>
<line x1="275.35" y1="374.4" x2="275.35" y2="376.09999999999997"/>
<line x1="307.65" y1="374.4" x2="307.65" y2="376.09999999999997"/>
<line x1="339.95" y1="374.4" x2="339.95" y2="376.09999999999997"/>
<line x1="372.25" y1="374.4" x2="372.25" y2="376.09999999999997"/>
<line x1="404.55" y1="374.4" x2="404.55" y2="376.09999999999997"/>
<line x1="420.70" y1="374.4" x2="420.70" y2="376.09999999999997"/>
<line x1="453.00" y1="374.4" x2="453.00" y2="376.09999999999997"/>
<line x1="247.7" y1="367.90" x2="249.5" y2="367.90"/>
<line x1="247.7" y1="337.70" x2="249.5" y2="337.70"/>
<line x1="247.7" y1="307.50" x2="249.5" y2="307.50"/>
<line x1="247.7" y1="277.30" x2="249.5" y2="277.30"/>
<line x1="247.7" y1="247.10" x2="249.5" y2="247.10"/>
</g>
<g font-family="Liberation Sans, sans-serif" stroke="#000" stroke-width="0.1" fill="#000">
<text x="259.2" y="386" font-size="10.2" text-anchor="middle" textLength="6.08" lengthAdjust="spacingAndGlyphs" >0</text>
<text x="275.35" y="386" font-size="10.2" text-anchor="middle" textLength="15.19" lengthAdjust="spacingAndGlyphs" >0.1</text>
<text x="307.65" y="386" font-size="10.2" text-anchor="middle" textLength="15.19" lengthAdjust="spacingAndGlyphs" >0.3</text>
<text x="339.95" y="386" font-size="10.2" text-anchor="middle" textLength="15.19" lengthAdjust="spacingAndGlyphs" >0.5</text>
<text x="372.25" y="386" font-size="10.2" text-anchor="middle" textLength="15.19" lengthAdjust="spacingAndGlyphs" >0.7</text>
<text x="404.55" y="386" font-size="10.2" text-anchor="middle" textLength="15.19" lengthAdjust="spacingAndGlyphs" >0.9</text>
<text x="420.7" y="386" font-size="10.2" text-anchor="middle" textLength="6.08" lengthAdjust="spacingAndGlyphs" >1</text>
<text x="453.0" y="386" font-size="10.2" text-anchor="middle" textLength="15.19" lengthAdjust="spacingAndGlyphs" >1.2</text>
<text x="259.3" y="223" font-size="10.0" textLength="193.4" lengthAdjust="spacingAndGlyphs" >Coefficient × Signal's Average Intensity)</text>
<text x="308.2" y="397" font-size="10.0" textLength="96.0" lengthAdjust="spacingAndGlyphs" >Intensity Coefficient</text>
</g>
<g stroke="#ececec" stroke-width="0.9" stroke-dasharray="1.2 1">
<line x1="479.70" y1="225.7" x2="479.70" y2="374.4"/>
<line x1="495.85" y1="225.7" x2="495.85" y2="374.4"/>
<line x1="528.15" y1="225.7" x2="528.15" y2="374.4"/>
<line x1="560.45" y1="225.7" x2="560.45" y2="374.4"/>
<line x1="592.75" y1="225.7" x2="592.75" y2="374.4"/>
<line x1="625.05" y1="225.7" x2="625.05" y2="374.4"/>
<line x1="641.20" y1="225.7" x2="641.20" y2="374.4"/>
<line x1="673.50" y1="225.7" x2="673.50" y2="374.4"/>
<line x1="470.0" y1="367.90" x2="683.2" y2="367.90"/>
<line x1="470.0" y1="337.70" x2="683.2" y2="337.70"/>
<line x1="470.0" y1="307.50" x2="683.2" y2="307.50"/>
<line x1="470.0" y1="277.30" x2="683.2" y2="277.30"/>
<line x1="470.0" y1="247.10" x2="683.2" y2="247.10"/>
</g>
<polyline points="479.70,277.10 495.85,276.30 528.15,275.20 560.45,274.50 592.75,273.75 625.05,272.80 641.20,272.25 673.50,271.30" fill="none" stroke="#2a7bbd" stroke-width="1.2" stroke-linejoin="round"/>
<circle cx="479.70" cy="277.10" r="2.75" fill="#2a7bbd"/>
<circle cx="495.85" cy="276.30" r="2.75" fill="#2a7bbd"/>
<circle cx="528.15" cy="275.20" r="2.75" fill="#2a7bbd"/>
<circle cx="560.45" cy="274.50" r="2.75" fill="#2a7bbd"/>
<circle cx="592.75" cy="273.75" r="2.75" fill="#2a7bbd"/>
<circle cx="625.05" cy="272.80" r="2.75" fill="#2a7bbd"/>
<circle cx="641.20" cy="272.25" r="2.75" fill="#2a7bbd"/>
<circle cx="673.50" cy="271.30" r="2.75" fill="#2a7bbd"/>
<polyline points="479.70,293.50 495.85,303.00 528.15,323.90 560.45,335.30 592.75,342.20 625.05,346.50 641.20,348.10 673.50,350.70" fill="none" stroke="#fa7f19" stroke-width="1.2" stroke-linejoin="round"/>
<rect x="476.95" y="290.75" width="5.50" height="5.50" fill="#fa7f19"/>
<rect x="493.10" y="300.25" width="5.50" height="5.50" fill="#fa7f19"/>
<rect x="525.40" y="321.15" width="5.50" height="5.50" fill="#fa7f19"/>
<rect x="557.70" y="332.55" width="5.50" height="5.50" fill="#fa7f19"/>
<rect x="590.00" y="339.45" width="5.50" height="5.50" fill="#fa7f19"/>
<rect x="622.30" y="343.75" width="5.50" height="5.50" fill="#fa7f19"/>
<rect x="638.45" y="345.35" width="5.50" height="5.50" fill="#fa7f19"/>
<rect x="670.75" y="347.95" width="5.50" height="5.50" fill="#fa7f19"/>
<polyline points="479.70,306.10 495.85,295.00 528.15,308.90 560.45,333.60 592.75,348.80 625.05,356.40 641.20,358.80 673.50,362.10" fill="none" stroke="#33a633" stroke-width="1.2" stroke-linejoin="round"/>
<path d="M479.70 302.80L483.00 306.10L479.70 309.40L476.40 306.10Z" fill="#33a633"/>
<path d="M495.85 291.70L499.15 295.00L495.85 298.30L492.55 295.00Z" fill="#33a633"/>
<path d="M528.15 305.60L531.45 308.90L528.15 312.20L524.85 308.90Z" fill="#33a633"/>
<path d="M560.45 330.30L563.75 333.60L560.45 336.90L557.15 333.60Z" fill="#33a633"/>
<path d="M592.75 345.50L596.05 348.80L592.75 352.10L589.45 348.80Z" fill="#33a633"/>
<path d="M625.05 353.10L628.35 356.40L625.05 359.70L621.75 356.40Z" fill="#33a633"/>
<path d="M641.20 355.50L644.50 358.80L641.20 362.10L637.90 358.80Z" fill="#33a633"/>
<path d="M673.50 358.80L676.80 362.10L673.50 365.40L670.20 362.10Z" fill="#33a633"/>
<polyline points="479.70,298.50 495.85,300.90 528.15,300.20 560.45,302.10 592.75,304.40 625.05,309.40 641.20,310.40 673.50,315.60" fill="none" stroke="#d92b2b" stroke-width="1.2" stroke-linejoin="round"/>
<path d="M479.70 295.25L482.62 300.45L476.77 300.45Z" fill="#d92b2b"/>
<path d="M495.85 297.65L498.77 302.85L492.92 302.85Z" fill="#d92b2b"/>
<path d="M528.15 296.95L531.07 302.15L525.23 302.15Z" fill="#d92b2b"/>
<path d="M560.45 298.85L563.38 304.05L557.53 304.05Z" fill="#d92b2b"/>
<path d="M592.75 301.15L595.67 306.35L589.83 306.35Z" fill="#d92b2b"/>
<path d="M625.05 306.15L627.97 311.35L622.12 311.35Z" fill="#d92b2b"/>
<path d="M641.20 307.15L644.12 312.35L638.28 312.35Z" fill="#d92b2b"/>
<path d="M673.50 312.35L676.42 317.55L670.58 317.55Z" fill="#d92b2b"/>
<polyline points="479.70,232.90 495.85,232.90 528.15,233.20 560.45,235.30 592.75,239.10 625.05,246.00 641.20,249.75 673.50,261.00" fill="none" stroke="#9669c2" stroke-width="1.2" stroke-linejoin="round"/>
<path d="M478.50 229.90H480.90V231.70H482.70V234.10H480.90V235.90H478.50V234.10H476.70V231.70H478.50Z" fill="#9669c2"/>
<path d="M494.65 229.90H497.05V231.70H498.85V234.10H497.05V235.90H494.65V234.10H492.85V231.70H494.65Z" fill="#9669c2"/>
<path d="M526.95 230.20H529.35V232.00H531.15V234.40H529.35V236.20H526.95V234.40H525.15V232.00H526.95Z" fill="#9669c2"/>
<path d="M559.25 232.30H561.65V234.10H563.45V236.50H561.65V238.30H559.25V236.50H557.45V234.10H559.25Z" fill="#9669c2"/>
<path d="M591.55 236.10H593.95V237.90H595.75V240.30H593.95V242.10H591.55V240.30H589.75V237.90H591.55Z" fill="#9669c2"/>
<path d="M623.85 243.00H626.25V244.80H628.05V247.20H626.25V249.00H623.85V247.20H622.05V244.80H623.85Z" fill="#9669c2"/>
<path d="M640.00 246.75H642.40V248.55H644.20V250.95H642.40V252.75H640.00V250.95H638.20V248.55H640.00Z" fill="#9669c2"/>
<path d="M672.30 258.00H674.70V259.80H676.50V262.20H674.70V264.00H672.30V262.20H670.50V259.80H672.30Z" fill="#9669c2"/>
<rect x="470.0" y="225.7" width="213.2" height="148.7" fill="none" stroke="#7c7c7c" stroke-width="1.2"/>
<g stroke="#6a6a6a" stroke-width="1.0">
<line x1="479.70" y1="374.4" x2="479.70" y2="376.09999999999997"/>
<line x1="495.85" y1="374.4" x2="495.85" y2="376.09999999999997"/>
<line x1="528.15" y1="374.4" x2="528.15" y2="376.09999999999997"/>
<line x1="560.45" y1="374.4" x2="560.45" y2="376.09999999999997"/>
<line x1="592.75" y1="374.4" x2="592.75" y2="376.09999999999997"/>
<line x1="625.05" y1="374.4" x2="625.05" y2="376.09999999999997"/>
<line x1="641.20" y1="374.4" x2="641.20" y2="376.09999999999997"/>
<line x1="673.50" y1="374.4" x2="673.50" y2="376.09999999999997"/>
<line x1="468.2" y1="367.90" x2="470.0" y2="367.90"/>
<line x1="468.2" y1="337.70" x2="470.0" y2="337.70"/>
<line x1="468.2" y1="307.50" x2="470.0" y2="307.50"/>
<line x1="468.2" y1="277.30" x2="470.0" y2="277.30"/>
<line x1="468.2" y1="247.10" x2="470.0" y2="247.10"/>
</g>
<g font-family="Liberation Sans, sans-serif" stroke="#000" stroke-width="0.1" fill="#000">
<text x="479.7" y="386" font-size="10.2" text-anchor="middle" textLength="6.08" lengthAdjust="spacingAndGlyphs" >0</text>
<text x="495.85" y="386" font-size="10.2" text-anchor="middle" textLength="6.08" lengthAdjust="spacingAndGlyphs" >1</text>
<text x="528.15" y="386" font-size="10.2" text-anchor="middle" textLength="6.08" lengthAdjust="spacingAndGlyphs" >3</text>
<text x="560.45" y="386" font-size="10.2" text-anchor="middle" textLength="6.08" lengthAdjust="spacingAndGlyphs" >5</text>
<text x="592.75" y="386" font-size="10.2" text-anchor="middle" textLength="6.08" lengthAdjust="spacingAndGlyphs" >7</text>
<text x="625.05" y="386" font-size="10.2" text-anchor="middle" textLength="6.08" lengthAdjust="spacingAndGlyphs" >9</text>
<text x="641.2" y="386" font-size="10.2" text-anchor="middle" textLength="12.15" lengthAdjust="spacingAndGlyphs" >10</text>
<text x="673.5" y="386" font-size="10.2" text-anchor="middle" textLength="12.15" lengthAdjust="spacingAndGlyphs" >12</text>
<text x="478.8" y="212" font-size="10.0" textLength="196.1" lengthAdjust="spacingAndGlyphs" >+ Hot Pixel Noise (Num = Hot Pixel Num,</text>
<text x="492.7" y="223" font-size="10.0" textLength="167.1" lengthAdjust="spacingAndGlyphs" >Intensity = Signal's Peak Intensity)</text>
<text x="542.8" y="397" font-size="10.0" textLength="67.4" lengthAdjust="spacingAndGlyphs" >Hot Pixel Num</text>
</g>
<g font-family="Liberation Sans, sans-serif" stroke="#000" stroke-width="0.1" fill="#000"><text x="265.5" y="212" font-size="10.0" textLength="181.5" lengthAdjust="spacingAndGlyphs">+ Gaussian Noise (<tspan font-style="italic">μ</tspan> = 0, <tspan font-style="italic">σ</tspan> =  Intensity</text></g>
<g font-family="Liberation Sans, sans-serif" stroke="#000" stroke-width="0.1" fill="#000"><text transform="translate(8.7,385.7) rotate(-90)" x="0" y="0" font-size="10.3" textLength="171.3" lengthAdjust="spacingAndGlyphs">Average Classification Accuracy (%)</text></g>
</svg>
</body></html>
